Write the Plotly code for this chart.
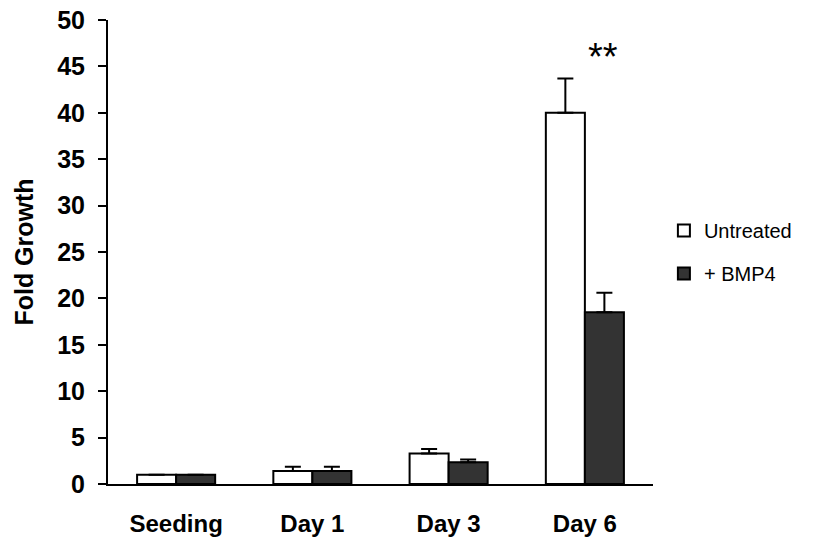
import plotly.graph_objects as go

categories = ["Seeding", "Day 1", "Day 3", "Day 6"]
untreated = [1.0, 1.4, 3.3, 40.0]
untreated_err = [0.0, 0.45, 0.47, 3.7]
bmp4 = [1.0, 1.4, 2.35, 18.5]
bmp4_err = [0.0, 0.45, 0.28, 2.1]
y_ticks = [0, 5, 10, 15, 20, 25, 30, 35, 40, 45, 50]

FONT = "Arial, Liberation Sans, sans-serif"

fig = go.Figure()
fig.add_trace(go.Bar(
    x=categories, y=untreated, name="Untreated",
    marker=dict(color="white", line=dict(color="black", width=2)),
    error_y=dict(type="data", array=untreated_err, arrayminus=[0]*4, symmetric=False,
                 color="black", thickness=2, width=8),
    legendgroup="a",
))
fig.add_trace(go.Bar(
    x=categories, y=bmp4, name="+ BMP4",
    marker=dict(color="#333333", line=dict(color="black", width=2)),
    error_y=dict(type="data", array=bmp4_err, arrayminus=[0]*4, symmetric=False,
                 color="black", thickness=2, width=8),
    legendgroup="b",
))

fig.add_annotation(x="Day 6", y=46.0, text="**", showarrow=False, xshift=18,
                   font=dict(family=FONT, size=38, color="black"))

fig.update_layout(
    width=817, height=544,
    margin=dict(l=108, r=164, t=20, b=60),
    paper_bgcolor="white", plot_bgcolor="white",
    barmode="group", bargap=0.427, bargroupgap=0,
    font=dict(family=FONT, color="black"),
    showlegend=True,
    legend=dict(x=1.02, y=0.5, xanchor="left", yanchor="middle",
                font=dict(size=20, family=FONT), traceorder="grouped",
                tracegroupgap=14, itemwidth=30),
    xaxis=dict(showline=True, linecolor="black", linewidth=2, ticks="",
               automargin=False,
               tickfont=dict(size=24, family=FONT, weight="bold"),
               ticklabelstandoff=17, range=[-0.5, 3.5], showgrid=False),
    yaxis=dict(showline=True, linecolor="black", linewidth=2, ticks="outside",
               automargin=False,
               ticklen=8, tickwidth=2, tickcolor="black",
               tickvals=y_ticks, range=[0, 50], showgrid=False, zeroline=False,
               tickfont=dict(size=25, family=FONT, weight="bold"),
               ticklabelstandoff=8,
               title=dict(text="Fold Growth", standoff=16,
                          font=dict(size=25, family=FONT, weight="bold"))),
)

fig.write_html("out.html")
